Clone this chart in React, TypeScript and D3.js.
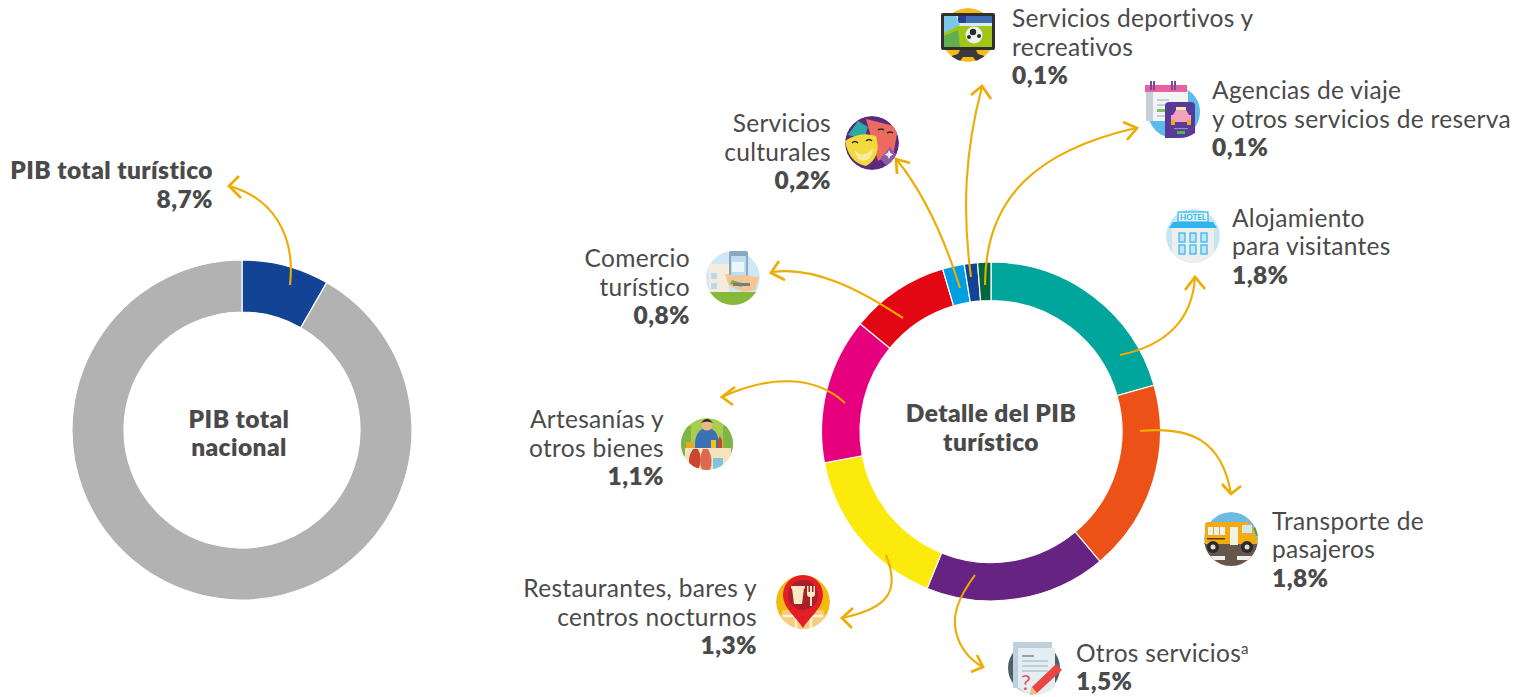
import React from "react";
import * as d3 from "d3";

const W = 1530, H = 697;
const FONT = "Lato, 'Open Sans', sans-serif";
const INK = "#4a4a4a";
const ARROW = "#eeab00";

// Left donut
const nationalNames = ["PIB total turístico", "Resto del PIB"];
const nationalValues = [8.3, 91.7];
const nationalColors = ["#134395", "#b2b2b2"];

// Right donut (clockwise from 12 o'clock)
const categories = ["Alojamiento para visitantes", "Transporte de pasajeros", "Otros servicios", "Restaurantes, bares y centros nocturnos", "Artesanías y otros bienes", "Comercio turístico", "Servicios culturales", "Servicios deportivos y recreativos", "Agencias de viaje y otros servicios de reserva"];
const sliceValues = [1.79, 1.59, 1.50, 1.38, 1.21, 0.82, 0.18, 0.11, 0.11];
const sliceColors = ["#00a59b", "#ec5118", "#662382", "#fdea0d", "#e6007e", "#e30613", "#009fe3", "#134395", "#00683f"];

type Lbl = { x: number; y: number; anchor: string; lines: string[]; value: string; sup?: boolean };
const labels: Lbl[] = [
  { x: 1012, y: 27, anchor: "start", lines: ["Servicios deportivos y", "recreativos"], value: "0,1%" },
  { x: 1212, y: 99, anchor: "start", lines: ["Agencias de viaje", "y otros servicios de reserva"], value: "0,1%" },
  { x: 1232, y: 226.5, anchor: "start", lines: ["Alojamiento", "para visitantes"], value: "1,8%" },
  { x: 1272, y: 529.5, anchor: "start", lines: ["Transporte de", "pasajeros"], value: "1,8%" },
  { x: 1076, y: 661.5, anchor: "start", lines: ["Otros servicios"], value: "1,5%", sup: true },
  { x: 757, y: 597, anchor: "end", lines: ["Restaurantes, bares y", "centros nocturnos"], value: "1,3%" },
  { x: 664, y: 428, anchor: "end", lines: ["Artesanías y", "otros bienes"], value: "1,1%" },
  { x: 690, y: 267, anchor: "end", lines: ["Comercio", "turístico"], value: "0,8%" },
  { x: 831, y: 132, anchor: "end", lines: ["Servicios", "culturales"], value: "0,2%" },
];

type Arr = { d: string; head: [number, number][] };
const arrows: Arr[] = [
  { d: "M290,285 C296,232 270,197 229,186", head: [[239, 176], [229, 186], [241, 198]] },
  { d: "M1120,355 C1168,345 1192,318 1195,278", head: [[1185, 290], [1195, 277], [1205, 289]] },
  { d: "M1140,431 C1190,426 1222,440 1231,494", head: [[1222, 484], [1231, 494], [1241, 486]] },
  { d: "M975,575 C958,598 952,615 956,632 C960,648 970,660 983,667", head: [[977, 655], [983, 667], [971, 672]] },
  { d: "M886,555 C900,590 890,608 842,618", head: [[853, 608], [842, 618], [852, 628]] },
  { d: "M845,403 C815,375 770,375 722,397", head: [[735, 387], [722, 397], [733, 405]] },
  { d: "M903,318 C860,290 815,266 772,272", head: [[779, 261], [771, 273], [785, 280]] },
  { d: "M960,288 C945,240 925,195 897,160", head: [[897, 174], [896, 159], [910, 163]] },
  { d: "M971,277 C962,210 965,150 982,87", head: [[971, 95], [982, 86], [991, 99]] },
  { d: "M985,285 C985,195 1040,150 1136,128", head: [[1123, 122], [1137, 128], [1127, 140]] },
];

const Clip = ({ id, r = 27 }: { id: string; r?: number }) => (
  <clipPath id={id}><circle r={r} /></clipPath>
);

const IconTV = () => (
  <g>
    <Clip id="c-tv" />
    <g clipPath="url(#c-tv)">
      <circle r={27} fill="#fbb81a" />
      <path d="M-8,15 H8 L10,19 L20,22 V26 H8 L5,22 H-5 L-8,26 H-20 V22 L-10,19 Z" fill="#3a3a3a" />
    </g>
    <rect x={-27} y={-22} width={54} height={37} rx={2} fill="#2f2f2f" />
    <rect x={-24} y={-19} width={48} height={31} fill="#a2c617" />
    <rect x={-24} y={-19} width={48} height={10} fill="#dcecf5" />
    <rect x={-10} y={-19} width={34} height={7} fill="#3f6db5" />
    <rect x={-10} y={-19} width={8} height={7} fill="#28408f" />
    <path d="M-24,-19 L-12,-19 L-8,-10 L-24,-2 Z" fill="#7cc6ea" />
    <path d="M-24,1 L-10,-5 L-8,12 L-24,12 Z" fill="#62ae50" />
    <circle cx={6} cy={0} r={8.5} fill="#eef2ef" />
    <circle cx={5} cy={-3} r={3.2} fill="#2a2a2a" />
    <circle cx={11} cy={1} r={2} fill="#2a2a2a" />
    <circle cx={1} cy={2} r={2} fill="#2a2a2a" />
  </g>
);

const IconAgency = () => (
  <g>
    <circle r={26} fill="#5bbce9" />
    <rect x={-28} y={-21} width={42} height={30} fill="#f1f3f5" />
    <rect x={-28} y={-21} width={7} height={30} fill="#c4cfd8" />
    <rect x={-29} y={-27} width={42} height={7} fill="#e8609e" />
    <rect x={-24} y={-31} width={2} height={9} fill="#7a4b9c" />
    <rect x={-21} y={-31} width={2} height={9} fill="#7a4b9c" />
    <rect x={-3} y={-31} width={2} height={9} fill="#7a4b9c" />
    <rect x={0} y={-31} width={2} height={9} fill="#7a4b9c" />
    <rect x={-17} y={-13} width={12} height={2} fill="#c4cfd8" />
    <rect x={-17} y={-8} width={18} height={2} fill="#c4cfd8" />
    <rect x={-17} y={-3} width={14} height={3} fill="#7fbf6a" />
    <rect x={-17} y={3} width={14} height={2} fill="#c4cfd8" />
    <path d="M-9,-6 a4,4 0 0 1 4,-4 h22 a4,4 0 0 1 4,4 V21 Q14,26 6,26 H-9 Z" fill="#5a3a98" />
    <rect x={2} y={-5} width={10} height={5} fill="#fbe8a0" />
    <path d="M-1,3 L2,-2 H12 L15,3 H17 V10 H-3 V3 Z" fill="#f4a0c0" />
    <rect x={-3} y={8} width={4} height={5} fill="#f2a81d" />
    <rect x={13} y={8} width={4} height={5} fill="#f2a81d" />
    <rect x={0} y={16} width={14} height={1.2} fill="#9c84c8" />
    <rect x={3} y={19} width={8} height={3} fill="#4fb84f" />
  </g>
);

const IconHotel = () => (
  <g>
    <Clip id="c-h" />
    <g clipPath="url(#c-h)">
      <circle r={27} fill="#c6e6f3" />
      <rect x={-27} y={20} width={54} height={8} fill="#eeeeee" />
      <rect x={-21} y={-12} width={42} height={36} fill="#eeeeee" />
    </g>
    <rect x={-15} y={-24} width={30} height={10} fill="#e4f5fc" stroke="#2fb5ee" strokeWidth={1.2} />
    <text x={0} y={-16} textAnchor="middle" fontFamily={FONT} fontWeight={700} fontSize={8} fill="#2fb5ee">HOTEL</text>
    <path d="M-20,-14 H20 L24,-8 H-24 Z" fill="#2fb5ee" />
    {[-14, -3, 8].flatMap(x => [-3, 9].map(y => (
      <rect key={`${x}${y}`} x={x} y={y} width={6} height={9} fill="#bfe7f8" stroke="#2fb5ee" strokeWidth={1.2} />
    )))}
  </g>
);

const IconBus = () => (
  <g>
    <Clip id="c-b" />
    <g clipPath="url(#c-b)">
      <circle r={27} fill="#6cbbe0" />
      <rect x={-27} y={4} width={54} height={24} fill="#68564a" />
      <rect x={-27} y={17} width={54} height={11} fill="#efefef" />
      <rect x={-6} y={17} width={12} height={4} fill="#68564a" />
      <rect x={-27} y={21} width={54} height={7} fill="#68564a" />
      <circle cx={27} cy={-8} r={5} fill="#4fa63c" />
    </g>
    <rect x={-26} y={-17} width={46} height={21} rx={3} fill="#f5aa11" />
    <path d="M-26,-3 H26 V5 H-26 Z" fill="#f5aa11" />
    <path d="M20,-15 L25,-4 H20 Z" fill="#f5aa11" />
    {[-23, -17, -11].map(x => <rect key={x} x={x} y={-12} width={5} height={8} fill="#e8f3f7" />)}
    <rect x={-1} y={-12} width={8} height={18} fill="#f2f2e4" />
    <rect x={11} y={-14} width={10} height={8} fill="#cfe8f3" />
    <rect x={-24} y={-1} width={18} height={1.5} fill="#5a3e1b" />
    <circle cx={-18} cy={8} r={6} fill="#2a2a2a" /><circle cx={-18} cy={8} r={2.5} fill="#ddd" />
    <circle cx={16} cy={8} r={6} fill="#2a2a2a" /><circle cx={16} cy={8} r={2.5} fill="#ddd" />
  </g>
);

const IconOtros = () => (
  <g>
    <circle r={26} fill="#4f5f67" />
    <rect x={-21} y={-26} width={39} height={46} fill="#bfcfdb" />
    <path d="M-16,-20 H21 V18 A26,26 0 0 1 -16,20 Z" fill="#e3edf2" />
    <rect x={-12} y={-13} width={12} height={2} fill="#93a3ae" />
    {[-8, -3, 2].map(y => <rect key={y} x={-12} y={y} width={26} height={2} fill="#c0ced7" />)}
    <text x={-13} y={22} fontFamily={FONT} fontSize={22} fill="#e8505b">?</text>
    <path d="M22,-4 L28,2 L3,25 L-4,27 L-2,19 Z" fill="#e84545" />
    <path d="M-2,19 L3,25 L-4,27 Z" fill="#f6c27d" />
  </g>
);

const IconRest = () => (
  <g>
    <Clip id="c-r" />
    <g clipPath="url(#c-r)">
      <circle r={27} fill="#f0ba0e" />
      <path d="M-20,8 H20 L27,28 H-27 Z" fill="#f9cd7d" />
      <path d="M-20,14 H20 M-7,8 V28 M8,8 V28" stroke="#fff3dd" strokeWidth={2.5} />
    </g>
    <path d="M0,26 C-6,16 -20,6 -20,-7 A20,20 0 0 1 20,-7 C20,6 6,16 0,26 Z" fill="#e31e24" />
    <circle cy={-7} r={15} fill="#a9202a" />
    <path d="M-11,-14 H1 L-1,2 H-9 Z" fill="#fbe9c6" />
    <rect x={-12} y={-16} width={14} height={2.5} fill="#fbe9c6" />
    <path d="M4,-16 V-8 Q4,-5 7,-5 V4 H9 V-5 Q12,-5 12,-8 V-16 H10.5 V-10 H9 V-16 H7 V-10 H5.5 V-16 Z" fill="#fbe9c6" />
  </g>
);

const IconArt = () => (
  <g>
    <Clip id="c-a" r={26} />
    <g clipPath="url(#c-a)">
      <circle r={26} fill="#a8cd4e" />
      <rect x={-26} y={-18} width={10} height={30} fill="#7eb547" />
      <rect x={16} y={-18} width={10} height={30} fill="#7eb547" />
      <path d="M-12,-2 Q-10,-16 0,-16 Q10,-16 12,-2 V6 H-12 Z" fill="#3d6fb3" />
      <rect x={-22} y={4} width={46} height={24} fill="#f6e3bd" />
      <path d="M-14,5 Q-21,15 -16,24 H-8 Q-4,15 -9,5 Z" fill="#c9472d" />
      <path d="M-4,5 Q-9,15 -5,26 H3 Q7,15 1,5 Z" fill="#dd6a4e" />
      <rect x={6} y={14} width={10} height={12} fill="#7dc3e8" />
      <rect x={-21} y={-2} width={8} height={6} fill="#e9a81d" />
      <rect x={4} y={-4} width={5} height={8} fill="#f0c21e" />
      <path d="M11,4 V-4 L13,-8 L15,-4 V4 Z" fill="#c9472d" />
    </g>
    <circle cy={-19} r={5.5} fill="#eeb48a" />
    <path d="M-6,-21 Q0,-29 6,-21 Q0,-24 -6,-21 Z" fill="#2a2a2a" />
  </g>
);

const IconComercio = () => (
  <g>
    <Clip id="c-c" />
    <g clipPath="url(#c-c)">
      <circle r={27} fill="#cfe6f6" />
      <rect x={-24} y={-14} width={20} height={28} fill="#f6ecdc" />
      <rect x={-22} y={-5} width={6} height={6} fill="#bcd8ee" />
      <rect x={-22} y={5} width={6} height={6} fill="#bcd8ee" />
      <rect x={-27} y={14} width={54} height={14} fill="#86b93b" />
    </g>
    <rect x={-4} y={-27} width={19} height={34} rx={2} fill="#8aa8c0" />
    <rect x={-2} y={-22} width={15} height={24} fill="#bedcf2" />
    <rect x={-1} y={-16} width={12} height={10} fill="#eef5fb" />
    <path d="M-8,-4 L-4,8 L10,14 L22,12 L26,-1 L10,-3 L2,-2 Z" fill="#f5c594" />
    <path d="M-1,2 L12,6 L8,9 L-3,6 Z" fill="#7eb043" />
    <rect x={0} y={5} width={17} height={3} fill="#6f7f8d" />
  </g>
);

const IconCultura = () => (
  <g>
    <Clip id="c-m" />
    <g clipPath="url(#c-m)">
      <circle r={27} fill="#5b2a7f" />
      <path d="M-14,-22 L-4,-16 L-8,-4 L-24,-8 Z" fill="#2ba8a8" />
      <path d="M-6,-24 L26,-16 L22,8 L6,18 Z" fill="#ec6a5e" />
      <path d="M8,16 L16,24 L26,14 L18,4 Z" fill="#8d5aa7" />
    </g>
    <path d="M-27,-2 Q-12,-12 4,-7 Q10,14 -6,23 Q-23,20 -27,-2 Z" fill="#f2d93c" />
    <path d="M-20,0 q3,-3 6,0 M-6,-2 q3,-3 6,0 M-6,-28 M6,-13 q3,-2 6,0 M15,-10 q3,-2 6,0" fill="none" stroke="#2c2c2c" strokeWidth={1.6} />
    <path d="M-17,8 Q-8,16 1,5 Q0,18 -10,18 Q-16,16 -17,8 Z" fill="#f8eca0" />
    <path d="M17,7 l1.5,3 3,1.5 -3,1.5 -1.5,3 -1.5,-3 -3,-1.5 3,-1.5 Z" fill="#f1e6f5" />
  </g>
);

const icons: { x: number; y: number; C: React.FC }[] = [
  { x: 968, y: 35, C: IconTV },
  { x: 1174, y: 112, C: IconAgency },
  { x: 1193, y: 236, C: IconHotel },
  { x: 1231, y: 539, C: IconBus },
  { x: 1034, y: 668, C: IconOtros },
  { x: 803, y: 602, C: IconRest },
  { x: 707, y: 444, C: IconArt },
  { x: 733, y: 278, C: IconComercio },
  { x: 872, y: 143, C: IconCultura },
];

const pie = d3.pie<number>().sort(null).value(d => d);
const arcLeft = d3.arc<d3.PieArcDatum<number>>().innerRadius(118).outerRadius(170);
const arcRight = d3.arc<d3.PieArcDatum<number>>().innerRadius(131).outerRadius(169.5);

const TXT = { fontFamily: FONT, fill: INK, style: { fontVariantLigatures: "none" } };
const FS = 24.5;
const LS = 0.3;
const LSB = 0.42;

export default function App() {
  return (
    <svg width={W} height={H} viewBox={`0 0 ${W} ${H}`} style={{ position: "absolute", left: 0, top: 0, display: "block", background: "#fff" }}>
      <g transform="translate(242,430)">
        {pie(nationalValues).map((s, i) => (
          <path key={nationalNames[i]} d={arcLeft(s)!} fill={nationalColors[i]} stroke="#fff" strokeWidth={1.2} />
        ))}
      </g>
      <g transform="translate(991,431.5)">
        {pie(sliceValues).map((s, i) => (
          <path key={categories[i]} d={arcRight(s)!} fill={sliceColors[i]} stroke="#fff" strokeWidth={1.2} />
        ))}
      </g>

      {arrows.map((a, i) => (
        <g key={i} fill="none" stroke={ARROW} strokeLinecap="butt">
          <path d={a.d} strokeWidth={2.1} />
          <path d={d3.line()(a.head)!} strokeWidth={2.7} />
        </g>
      ))}

      {icons.map(({ x, y, C }, i) => (
        <g key={i} transform={`translate(${x},${y})`}><C /></g>
      ))}

      <g {...TXT} fontSize={FS} fontWeight={800} textAnchor="middle" letterSpacing={LSB}>
        <text x={239} y={428}>PIB total</text>
        <text x={239} y={456}>nacional</text>
        <text x={991} y={422}>Detalle del PIB</text>
        <text x={991} y={451}>turístico</text>
      </g>
      <g {...TXT} fontSize={FS} fontWeight={800} textAnchor="end" letterSpacing={LSB}>
        <text x={213} y={179}>PIB total turístico</text>
        <text x={213} y={208}>8,7%</text>
      </g>

      {labels.map(l => (
        <g key={l.lines[0]} {...TXT} fontSize={FS} textAnchor={l.anchor} letterSpacing={LS}>
          {l.lines.map((t, j) => (
            <text key={t} x={l.x} y={l.y + j * 28.7}>
              {t}
              {l.sup && <tspan fontSize={15} dy={-8}>a</tspan>}
            </text>
          ))}
          <text x={l.x} y={l.y + l.lines.length * 28.7} fontWeight={800} letterSpacing={LSB}>{l.value}</text>
        </g>
      ))}
    </svg>
  );
}
